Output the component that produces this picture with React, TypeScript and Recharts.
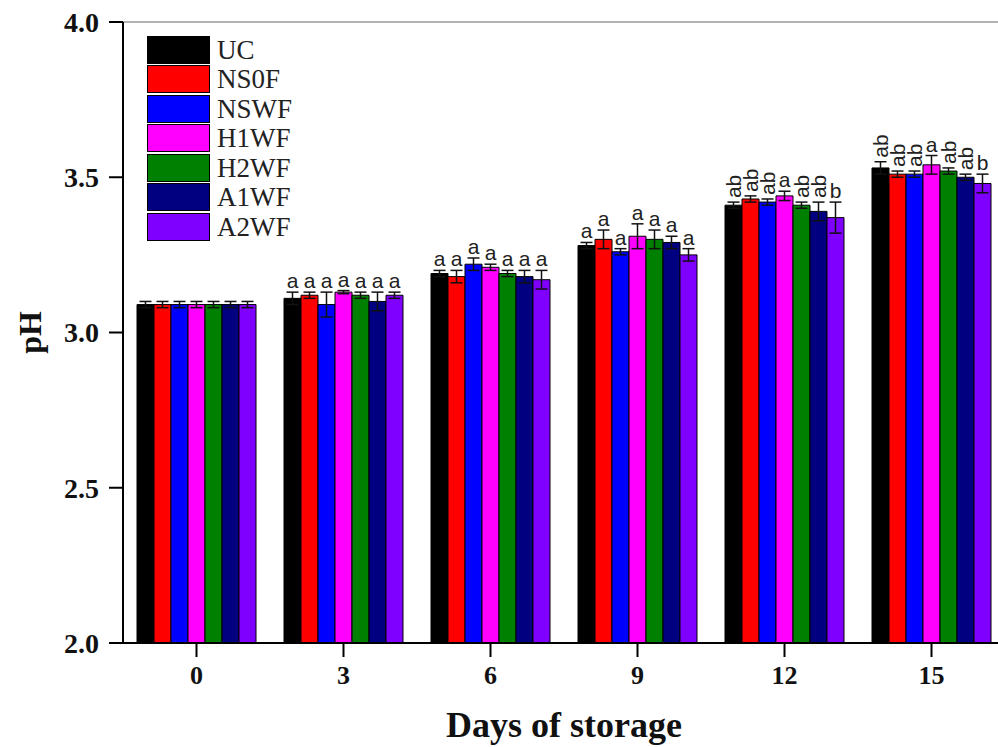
import React from "react";
import {
  BarChart,
  Bar,
  XAxis,
  YAxis,
  ErrorBar,
  LabelList,
  Legend,
  ReferenceLine,
} from "recharts";

// storage days
const days = ["0", "3", "6", "9", "12", "15"];

// mean pH per treatment
const UC = [3.09, 3.11, 3.19, 3.28, 3.41, 3.53];
const NS0F = [3.09, 3.12, 3.18, 3.3, 3.43, 3.51];
const NSWF = [3.09, 3.09, 3.22, 3.26, 3.42, 3.51];
const H1WF = [3.09, 3.13, 3.21, 3.31, 3.44, 3.54];
const H2WF = [3.09, 3.12, 3.19, 3.3, 3.41, 3.52];
const A1WF = [3.09, 3.1, 3.18, 3.29, 3.39, 3.5];
const A2WF = [3.09, 3.12, 3.17, 3.25, 3.37, 3.48];

// standard deviations
const UC_SD = [0.01, 0.02, 0.01, 0.01, 0.01, 0.02];
const NS0F_SD = [0.01, 0.01, 0.02, 0.03, 0.01, 0.01];
const NSWF_SD = [0.01, 0.04, 0.02, 0.01, 0.01, 0.01];
const H1WF_SD = [0.01, 0.005, 0.01, 0.04, 0.015, 0.03];
const H2WF_SD = [0.01, 0.01, 0.01, 0.03, 0.01, 0.01];
const A1WF_SD = [0.01, 0.03, 0.02, 0.02, 0.03, 0.01];
const A2WF_SD = [0.01, 0.01, 0.03, 0.02, 0.05, 0.03];

// significance letters
const UC_SIG = ["", "a", "a", "a", "ab", "ab"];
const NS0F_SIG = ["", "a", "a", "a", "ab", "ab"];
const NSWF_SIG = ["", "a", "a", "a", "ab", "ab"];
const H1WF_SIG = ["", "a", "a", "a", "a", "a"];
const H2WF_SIG = ["", "a", "a", "a", "ab", "ab"];
const A1WF_SIG = ["", "a", "a", "a", "ab", "ab"];
const A2WF_SIG = ["", "a", "a", "a", "b", "b"];

const yTicks = [2.0, 2.5, 3.0, 3.5, 4.0];
const Y_MIN = 2;
const Y_MAX = 4;

const series = [
  { key: "UC", color: "#000000", values: UC, sd: UC_SD, sig: UC_SIG },
  { key: "NS0F", color: "#ff0000", values: NS0F, sd: NS0F_SD, sig: NS0F_SIG },
  { key: "NSWF", color: "#0000ff", values: NSWF, sd: NSWF_SD, sig: NSWF_SIG },
  { key: "H1WF", color: "#ff00ff", values: H1WF, sd: H1WF_SD, sig: H1WF_SIG },
  { key: "H2WF", color: "#008000", values: H2WF, sd: H2WF_SD, sig: H2WF_SIG },
  { key: "A1WF", color: "#000080", values: A1WF, sd: A1WF_SD, sig: A1WF_SIG },
  { key: "A2WF", color: "#8000ff", values: A2WF, sd: A2WF_SD, sig: A2WF_SIG },
];

const data = days.map((day, i) => {
  const row: Record<string, string | number> = { day };
  series.forEach((s) => {
    row[s.key] = s.values[i];
    row[`${s.key}_sd`] = s.sd[i];
  });
  return row;
});

const SERIF = "'Liberation Serif', 'Times New Roman', serif";
const SANS = "'Liberation Sans', Arial, sans-serif";

// letters sit just above the error cap; two-letter groups are turned on their side
function makeSigLabel(s: (typeof series)[number]) {
  return function SigLabel(props: any) {
    const vb = props.viewBox || {};
    const x = props.x ?? vb.x;
    const y = props.y ?? vb.y;
    const width = props.width ?? vb.width;
    const height = props.height ?? vb.height;
    const i = props.index;
    const letter = s.sig[i];
    if (!letter) return null;
    const cx = x + width / 2;
    const perUnit = height / (s.values[i] - Y_MIN);
    const top = y - s.sd[i] * perUnit - 4;
    const rotated = letter.length > 1;
    return (
      <g transform={`translate(${cx}, ${top})${rotated ? " rotate(-90)" : ""}`}>
        <text
          x={0}
          y={rotated ? 7 : 0}
          textAnchor={rotated ? "start" : "middle"}
          fontFamily={SANS}
          fontSize={21}
          fill="#222"
        >
          {letter}
        </text>
      </g>
    );
  };
}

function YTitle(props: any) {
  const vb = props.viewBox || {};
  const cy = vb.y + vb.height / 2;
  return (
    <text
      x={30}
      y={cy}
      transform={`rotate(-90 30 ${cy})`}
      textAnchor="middle"
      dominantBaseline="central"
      fill="#111"
      fontSize={32}
      fontWeight="bold"
      fontFamily={SERIF}
    >
      pH
    </text>
  );
}

function LegendBox() {
  return (
    <div style={{ fontFamily: SERIF, fontSize: 27, color: "#222" }}>
      {series.map((s) => (
        <div key={s.key} style={{ display: "flex", alignItems: "center", height: 29.5 }}>
          <span
            style={{
              display: "inline-block",
              width: 61,
              height: 26,
              background: s.color,
              border: "1px solid #000",
              marginRight: 7,
            }}
          />
          <span style={{ lineHeight: "26px" }}>{s.key}</span>
        </div>
      ))}
    </div>
  );
}

export default function App() {
  return (
    <div
      style={{
        position: "absolute",
        left: 0,
        top: 0,
        width: 998,
        height: 747,
        overflow: "hidden",
        background: "#fff",
      }}
    >
      <BarChart
        width={1010}
        height={747}
        data={data}
        margin={{ top: 22, right: 5, left: 0, bottom: 0 }}
        barCategoryGap={14}
        barGap={0}
      >
        <ReferenceLine y={Y_MAX} stroke="#9a9a9a" strokeWidth={1.5} />
        <XAxis
          dataKey="day"
          height={104}
          axisLine={{ stroke: "#000", strokeWidth: 2 }}
          tickLine={{ stroke: "#000", strokeWidth: 2 }}
          tickSize={14}
          tickMargin={9}
          tick={{ fill: "#111", fontSize: 26, fontWeight: "bold", fontFamily: SERIF }}
          label={{
            value: "Days of storage",
            position: "insideBottom",
            offset: 10,
            fill: "#111",
            fontSize: 36,
            fontWeight: "bold",
            fontFamily: SERIF,
          }}
        />
        <YAxis
          width={123}
          domain={[Y_MIN, Y_MAX]}
          ticks={yTicks}
          allowDataOverflow
          axisLine={{ stroke: "#000", strokeWidth: 2 }}
          tickLine={{ stroke: "#000", strokeWidth: 2 }}
          tickSize={14}
          tickMargin={10}
          tickFormatter={(v) => Number(v).toFixed(1)}
          tick={{ fill: "#111", fontSize: 28, fontWeight: "bold", fontFamily: SERIF }}
          label={<YTitle />}
        />
        <Legend
          layout="vertical"
          align="center"
          verticalAlign="middle"
          content={() => <LegendBox />}
          wrapperStyle={{ left: 147, top: 35, width: 200, height: 210 }}
        />
        {series.map((s) => (
          <Bar
            key={s.key}
            dataKey={s.key}
            fill={s.color}
            stroke="#000"
            strokeWidth={1}
            barSize={17}
            isAnimationActive={false}
          >
            <ErrorBar
              dataKey={`${s.key}_sd`}
              direction="y"
              width={6}
              stroke="#111"
              strokeWidth={1.5}
            />
            <LabelList dataKey={s.key} content={makeSigLabel(s)} />
          </Bar>
        ))}
      </BarChart>
    </div>
  );
}
